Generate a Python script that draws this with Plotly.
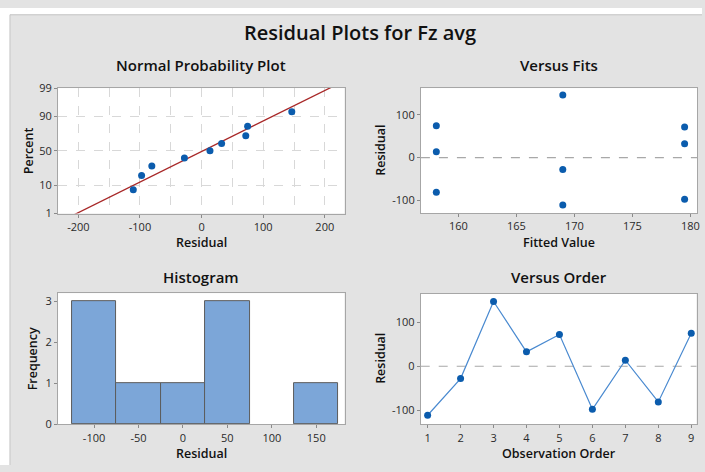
import numpy as np
import plotly.graph_objects as go
from statistics import NormalDist

# Residuals in observation order and the matching fitted values
observation = [1, 2, 3, 4, 5, 6, 7, 8, 9]
residual = [-110.9, -27.9, 146.4, 32.5, 71.7, -97.4, 13.6, -80.8, 74.7]
fitted = [169.0, 169.0, 169.0, 179.5, 179.5, 179.5, 158.1, 158.1, 158.1]

# Normal probability plot positions (median ranks, percent) for the sorted residuals
npp_percent = [7.4, 18.1, 28.7, 39.4, 50.0, 60.6, 71.3, 81.9, 92.6]
npp_ticks = [1, 10, 50, 90, 99]

# Tick labels
npp_x_ticks = [-200, -100, 0, 100, 200]
fit_x_ticks = [160, 165, 170, 175, 180]
res_y_ticks = [-100, 0, 100]
hist_x_ticks = [-100, -50, 0, 50, 100, 150]
hist_y_ticks = [0, 1, 2, 3]

# Histogram bins
hist_start, hist_end, hist_size = -125, 175, 50

W, H = 705, 472
nd = NormalDist()


def px_x(p):
    return p / W


def px_y(p):
    return 1 - p / H


def dom_x(a, b):
    return [px_x(a), px_x(b)]


def dom_y(top, bottom):
    return [px_y(bottom), px_y(top)]


def hy(vals):
    # plain hyphen for negative numbers
    return [str(v) for v in vals]


BLUE = "#0b5cad"
LINE_BLUE = "#4a8ad0"
FONT = "Open Sans"
TXT = "#2a2a2a"
FRAME = "#a6a6a6"

fig = go.Figure()

# --- Normal probability plot ---
res_sorted = sorted(residual)
z_pts = [nd.inv_cdf(p / 100) for p in npp_percent]
mu = float(np.mean(residual))
sd = float(np.std(residual, ddof=1))
line_z = [-3.2, 3.2]
line_x = [mu + sd * z for z in line_z]
fig.add_trace(go.Scatter(x=line_x, y=line_z, mode="lines",
                         line=dict(color="#a82828", width=1.3),
                         xaxis="x", yaxis="y", hoverinfo="skip"))
fig.add_trace(go.Scatter(x=res_sorted, y=z_pts, mode="markers",
                         marker=dict(color=BLUE, size=7),
                         xaxis="x", yaxis="y"))

# --- Versus fits ---
fig.add_trace(go.Scatter(x=fitted, y=residual, mode="markers",
                         marker=dict(color=BLUE, size=7),
                         xaxis="x2", yaxis="y2"))

# --- Histogram ---
fig.add_trace(go.Histogram(x=residual,
                           xbins=dict(start=hist_start, end=hist_end, size=hist_size),
                           marker=dict(color="#7ca6d8", line=dict(color="#5c5c5c", width=1)),
                           xaxis="x3", yaxis="y3"))

# --- Versus order ---
fig.add_trace(go.Scatter(x=observation, y=residual, mode="lines+markers",
                         line=dict(color=LINE_BLUE, width=1.2),
                         marker=dict(color=BLUE, size=7),
                         xaxis="x4", yaxis="y4"))

tickfont = dict(family=FONT, size=11, color=TXT, weight=500)
common = dict(showline=True, mirror=True, linecolor=FRAME, linewidth=1,
              ticks="outside", ticklen=3, tickcolor="#8a8a8a",
              tickfont=tickfont, zeroline=False)
grid = dict(showgrid=True, gridcolor="#d8d8d8", griddash="dash")

fig.update_layout(
    width=W, height=H,
    margin=dict(l=0, r=0, t=0, b=0),
    paper_bgcolor="#e3e3e3",
    plot_bgcolor="white",
    showlegend=False,
    bargap=0,
    xaxis=dict(domain=dom_x(58.3, 346), anchor="y", range=[-233, 232],
               tickvals=npp_x_ticks, ticktext=hy(npp_x_ticks),
               minor=dict(tickvals=[-150, -50, 50, 150], showgrid=True,
                          gridcolor="#d8d8d8", griddash="dash", ticks=""),
               **grid, **common),
    yaxis=dict(domain=dom_y(82.7, 212.3), anchor="x",
               range=[nd.inv_cdf(0.01), nd.inv_cdf(0.99)],
               tickvals=[nd.inv_cdf(t / 100) for t in npp_ticks],
               ticktext=[str(t) for t in npp_ticks],
               **grid, **common),
    xaxis2=dict(domain=dom_x(422.7, 700), anchor="y2", range=[156.77, 180.57],
                tickvals=fit_x_ticks, ticktext=hy(fit_x_ticks), showgrid=False, **common),
    yaxis2=dict(domain=dom_y(82.7, 212), anchor="x2", range=[-130.3, 162.9],
                tickvals=res_y_ticks, ticktext=hy(res_y_ticks), showgrid=False, **common),
    xaxis3=dict(domain=dom_x(58.3, 346), anchor="y3", range=[-140.5, 181.8],
                tickvals=hist_x_ticks, ticktext=hy(hist_x_ticks), showgrid=False, **common),
    yaxis3=dict(domain=dom_y(294.5, 430), anchor="x3", range=[0, 3.2],
                tickvals=hist_y_ticks, ticktext=hy(hist_y_ticks), showgrid=False, **common),
    xaxis4=dict(domain=dom_x(422.5, 699.5), anchor="y4", range=[0.79, 9.16],
                tickvals=observation, ticktext=hy(observation), showgrid=False, **common),
    yaxis4=dict(domain=dom_y(295, 430), anchor="x4", range=[-131.4, 164.2],
                tickvals=res_y_ticks, ticktext=hy(res_y_ticks), showgrid=False, **common),
)

# zero reference lines
for xa, ya in (("x2", "y2"), ("x4", "y4")):
    fig.add_shape(type="line", xref=f"{xa} domain", yref=ya, x0=0, x1=1, y0=0, y1=0,
                  line=dict(color="#a8a8a8", width=1.2, dash="dash"), layer="below")

# white margin strips at the top and left edges
fig.add_shape(type="rect", xref="paper", yref="paper", x0=0, x1=1, y0=px_y(7), y1=1,
              fillcolor="white", line=dict(width=0), layer="below")
fig.add_shape(type="rect", xref="paper", yref="paper", x0=0, x1=px_x(10), y0=0, y1=1,
              fillcolor="white", line=dict(width=0), layer="below")
fig.add_shape(type="line", xref="paper", yref="paper", x0=px_x(10), x1=1, y0=px_y(7), y1=px_y(7),
              line=dict(color="#c4c4c4", width=1))
fig.add_shape(type="line", xref="paper", yref="paper", x0=px_x(10), x1=px_x(10), y0=0, y1=px_y(7),
              line=dict(color="#c4c4c4", width=1))


def label(text, x, y, size, weight=600, angle=0):
    fig.add_annotation(text=text, x=px_x(x), y=px_y(y), xref="paper", yref="paper",
                       showarrow=False, xanchor="center", yanchor="middle",
                       textangle=angle,
                       font=dict(family=FONT, size=size, color="#111111", weight=weight))


label("Residual Plots for Fz avg", 362, 25, 20, weight=600)

label("Normal Probability Plot", 202, 59, 15)
label("Versus Fits", 561, 59, 15)
label("Histogram", 202, 278, 15)
label("Versus Order", 561, 278, 15)

label("Residual", 202, 242, 12.5)
label("Percent", 28, 147, 12.5, angle=-90)
label("Fitted Value", 561, 242, 12.5)
label("Residual", 382, 147, 12.5, angle=-90)
label("Residual", 202, 460, 12.5)
label("Frequency", 33, 362, 12.5, angle=-90)
label("Observation Order", 561, 460, 12.5)
label("Residual", 382, 362, 12.5, angle=-90)

fig.write_html("out.html")
